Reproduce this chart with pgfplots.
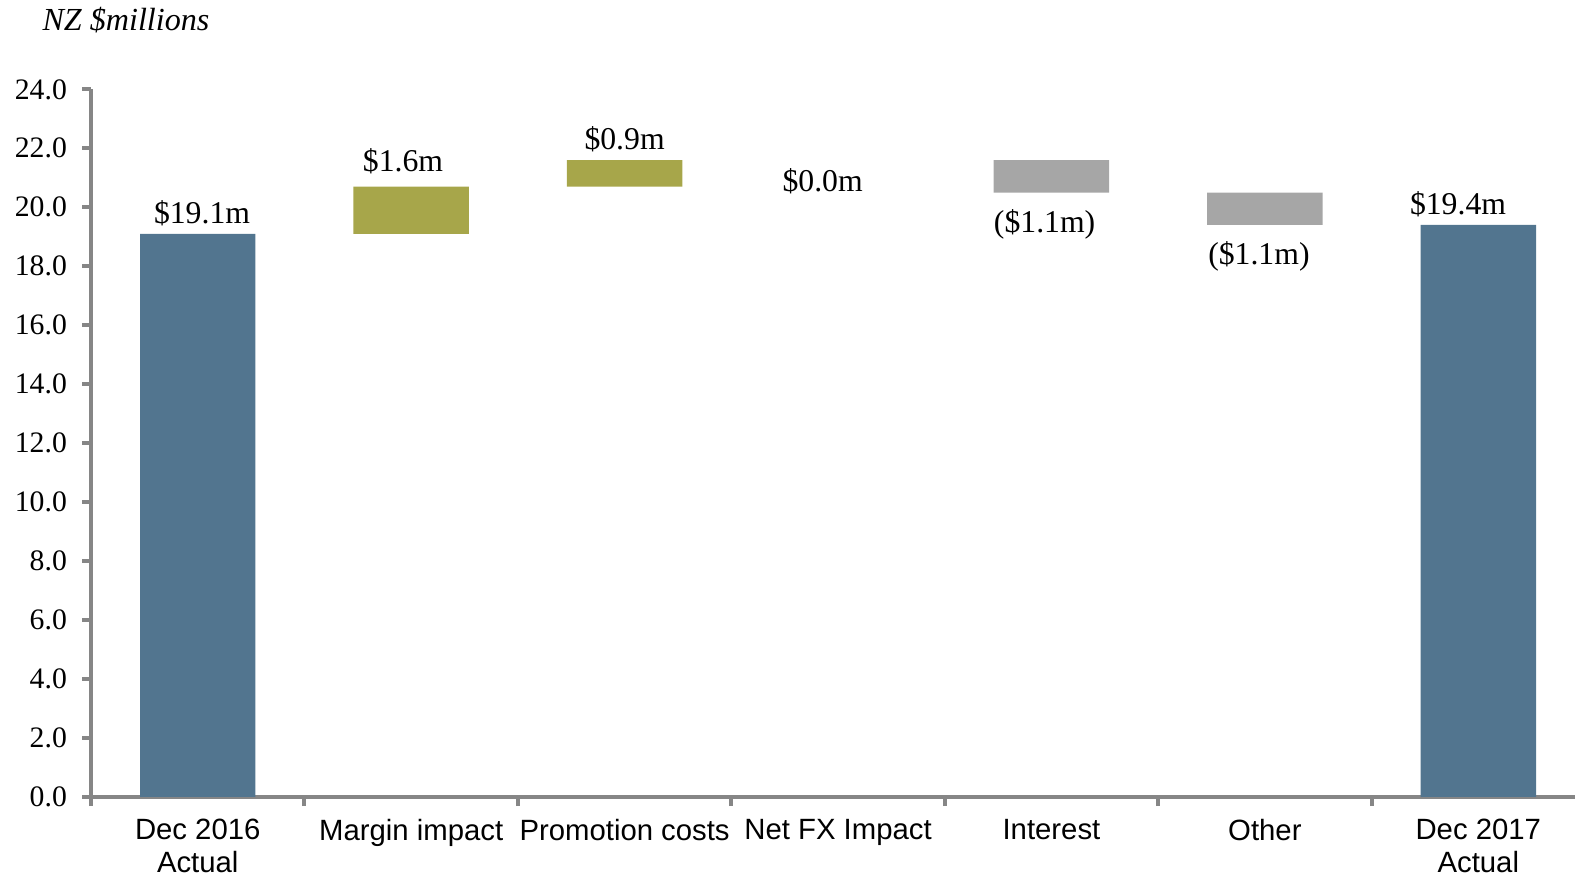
\documentclass[border=0pt]{standalone}
\usepackage{pgfplots}
\pgfplotsset{compat=1.18}
\usepackage{pgfplotstable}
\usepackage{fontspec}
\setmainfont{Liberation Serif}
\newfontfamily\arial{Liberation Sans}
\definecolor{barblue}{RGB}{82,117,143}
\definecolor{barolive}{RGB}{167,166,74}
\definecolor{bargray}{RGB}{166,166,166}
\definecolor{axisgray}{RGB}{134,134,134}
\pgfplotstableread{
x base blue olive gray
0 0    19.1 0   0
1 19.1 0    1.6 0
2 20.7 0    0.9 0
3 0    0    0   0
4 20.5 0    0   1.1
5 19.4 0    0   1.1
6 0    19.4 0   0
}\wftable
\begin{document}
\begin{tikzpicture}
\begin{axis}[
  scale only axis, width=744.2pt, height=352.5pt,
  xmin=-0.5, xmax=6.5, ymin=0, ymax=24,
  ybar stacked, bar width=57.5pt,
  axis x line*=bottom, axis y line*=left,
  axis line style={draw=axisgray, line width=2pt},
  tick style={draw=axisgray, line width=2pt},
  tick align=outside,
  major tick length=4.5pt,
  ytick={0,2,...,24},
  yticklabel style={font=\fontsize{14.8}{16}\selectfont, xshift=-4pt},
  /pgf/number format/fixed, /pgf/number format/fixed zerofill,
  /pgf/number format/precision=1, /pgf/number format/assume math mode=true,
  xtick={-0.5,0.5,1.5,2.5,3.5,4.5,5.5},
  xticklabels={},
  extra x ticks={0,1,2,3,4,5,6},
  extra x tick labels={{Dec 2016\\Actual},{Margin impact},{Promotion costs},{Net FX Impact},{Interest},{Other},{Dec 2017\\Actual}},
  extra x tick style={major tick length=0pt, xticklabel style={font=\arial\fontsize{14.6}{16.5}\selectfont, align=center, anchor=north, yshift=-7.5pt}},
  clip=false,
  axis on top=false,
]
\addplot+[draw=none, fill=none, mark=none] table[x=x, y=base] {\wftable};
\addplot+[draw=none, fill=barblue, mark=none] table[x=x, y=blue] {\wftable};
\addplot+[draw=none, fill=barolive, mark=none] table[x=x, y=olive] {\wftable};
\addplot+[draw=none, fill=bargray, mark=none] table[x=x, y=gray] {\wftable};
\node[font=\fontsize{15.8}{17}\selectfont, anchor=base, inner sep=0pt] at (axis cs:0.02,19.44) {\$19.1m};
\node[font=\fontsize{15.8}{17}\selectfont, anchor=base, inner sep=0pt] at (axis cs:0.962,21.21) {\$1.6m};
\node[font=\fontsize{15.8}{17}\selectfont, anchor=base, inner sep=0pt] at (axis cs:2.0,21.96) {\$0.9m};
\node[font=\fontsize{15.8}{17}\selectfont, anchor=base, inner sep=0pt] at (axis cs:2.928,20.54) {\$0.0m};
\node[font=\fontsize{15.8}{17}\selectfont, anchor=base, inner sep=0pt] at (axis cs:3.968,19.14) {(\$1.1m)};
\node[font=\fontsize{15.8}{17}\selectfont, anchor=base, inner sep=0pt] at (axis cs:4.972,18.07) {(\$1.1m)};
\node[font=\fontsize{15.8}{17}\selectfont, anchor=base, inner sep=0pt] at (axis cs:5.905,19.75) {\$19.4m};
\node[anchor=west, inner sep=0pt, xshift=-24.35pt, yshift=34.5pt, font=\itshape\fontsize{16}{18}\selectfont] at (rel axis cs:0,1) {NZ \$millions};
\end{axis}
\pgfresetboundingbox
\path (-45.35pt,-40.36pt) rectangle (739.21pt,397pt);
\end{tikzpicture}
\end{document}
